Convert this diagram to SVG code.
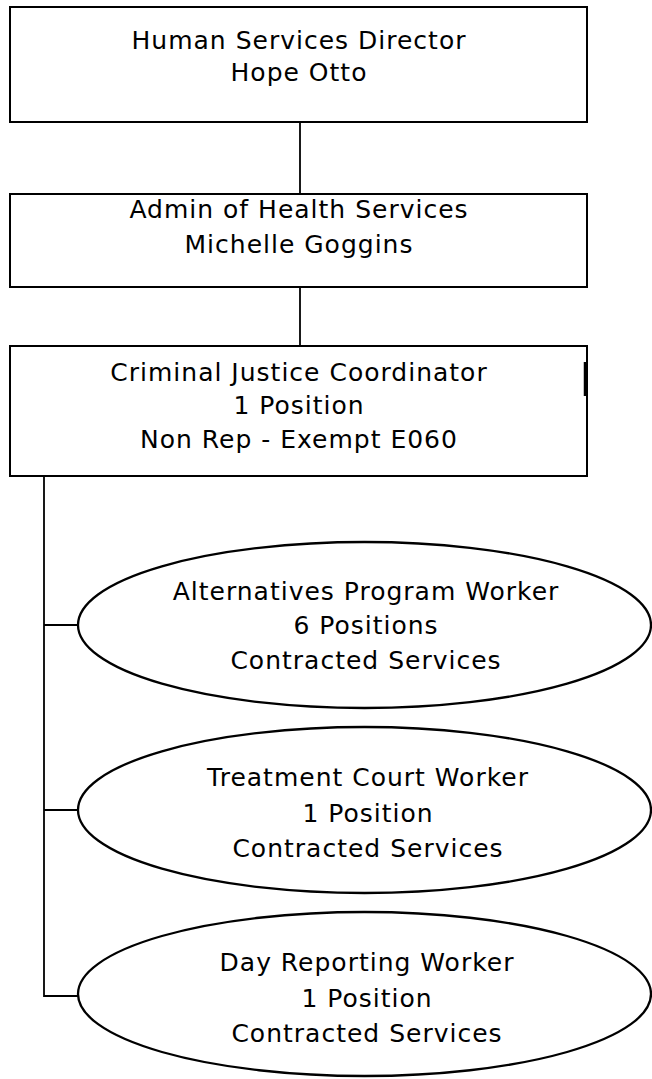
<svg xmlns="http://www.w3.org/2000/svg" width="652" height="1079" viewBox="0 0 652 1079">
<style>
.box{fill:#fff;stroke:#000;stroke-width:2}
.ell{fill:#fff;stroke:#000;stroke-width:2.3}
.ln{stroke:#000;stroke-width:1.8;fill:none}
text{font-family:"DejaVu Sans",Verdana,sans-serif;font-size:25px;letter-spacing:1px;fill:#000;text-anchor:middle}
</style>
<rect width="652" height="1079" fill="#fff"/>
<g id="connectors">
<line class="ln" x1="300" y1="122" x2="300" y2="194"/>
<line class="ln" x1="300" y1="287" x2="300" y2="346"/>
<polyline class="ln" points="44,476 44,996 78,996"/>
<line class="ln" x1="44" y1="625" x2="78" y2="625"/>
<line class="ln" x1="44" y1="810" x2="78" y2="810"/>
</g>
<g id="n1">
<rect class="box" x="10" y="7" width="577" height="115"/>
<text x="299" y="49">Human Services Director</text>
<text x="299" y="81">Hope Otto</text>
</g>
<g id="n2">
<rect class="box" x="10" y="194" width="577" height="93"/>
<text x="299" y="218">Admin of Health Services</text>
<text x="299" y="253">Michelle Goggins</text>
</g>
<g id="n3">
<rect class="box" x="10" y="346" width="577" height="130"/>
<line x1="585" y1="362" x2="585" y2="396" stroke="#000" stroke-width="2.5"/>
<text x="299" y="381">Criminal Justice Coordinator</text>
<text x="299" y="414">1 Position</text>
<text x="299" y="448">Non Rep - Exempt E060</text>
</g>
<g id="n4">
<ellipse class="ell" cx="364.5" cy="625" rx="286.5" ry="83"/>
<text x="366" y="600">Alternatives Program Worker</text>
<text x="366" y="634">6 Positions</text>
<text x="366" y="669">Contracted Services</text>
</g>
<g id="n5">
<ellipse class="ell" cx="364.5" cy="810" rx="286.5" ry="83"/>
<text x="368" y="786">Treatment Court Worker</text>
<text x="368" y="822">1 Position</text>
<text x="368" y="857">Contracted Services</text>
</g>
<g id="n6">
<ellipse class="ell" cx="364.5" cy="994" rx="286.5" ry="82"/>
<text x="367" y="971">Day Reporting Worker</text>
<text x="367" y="1007">1 Position</text>
<text x="367" y="1042">Contracted Services</text>
</g>
</svg>
